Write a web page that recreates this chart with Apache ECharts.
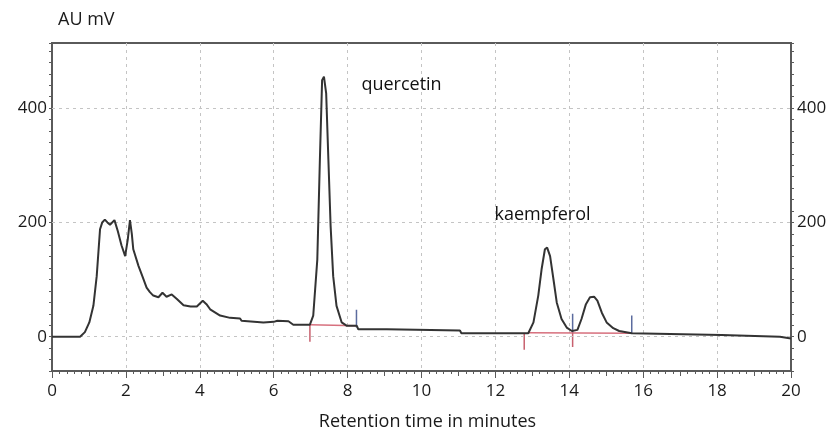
<!DOCTYPE html>
<html>
<head>
<meta charset="utf-8">
<script src="https://cdn.jsdelivr.net/npm/echarts@6/dist/echarts.min.js"></script>
<style>
html,body{margin:0;padding:0;background:#fff;}
#main{width:832px;height:436px;}
</style>
</head>
<body>
<div id="main"></div>
<script>
// retention time (min) and detector signal (mV)
var times = [0, 0.76, 0.89, 1.01, 1.12, 1.21, 1.30, 1.36, 1.43, 1.50, 1.57, 1.69, 1.78, 1.88, 1.98, 2.05, 2.11, 2.16, 2.20, 2.34,
    2.45, 2.56, 2.65, 2.74, 2.88, 2.99, 3.10, 3.24, 3.38, 3.56, 3.75, 3.92, 4.08, 4.18, 4.28, 4.55, 4.82, 5.09, 5.13, 5.72,
    6.00, 6.10, 6.40, 6.53, 6.98, 7.07, 7.18, 7.25, 7.31, 7.36, 7.42, 7.48, 7.54, 7.61, 7.70, 7.84, 7.98, 8.25, 8.29, 9.06,
    9.10, 11.04, 11.08, 12.89, 13.03, 13.16, 13.25, 13.34, 13.40, 13.48, 13.57, 13.66, 13.79, 13.93, 14.07, 14.22, 14.33, 14.45, 14.56, 14.67,
    14.76, 14.88, 15.01, 15.19, 15.35, 15.69, 15.73, 18.12, 18.16, 19.70, 19.74, 20];
var signal = [0, 0, 8, 25, 54, 106, 188, 200, 205, 200, 196, 204, 185, 160, 141, 170, 204, 180, 153, 124,
    105, 86, 78, 72, 69, 77, 70, 74, 66, 55, 53, 53, 63, 57, 48, 37, 33, 32, 28, 25,
    26, 28, 27, 21, 21, 37, 135, 310, 449, 455, 426, 310, 194, 106, 54, 25, 19, 19, 13, 13,
    11, 11, 6, 6, 25, 72, 118, 153, 156, 141, 101, 60, 31, 16, 10, 12, 31, 57, 69, 70,
    63, 42, 25, 15, 10, 6, 3, 3, 0, 0, -3, -3];

// integration baselines [x1, y1, x2, y2]
var baselines = [[6.98, 21, 8.25, 19], [12.89, 7, 15.70, 6]];
// peak start marks (red) and end marks (blue): [x, top, bottom]
var startMarks = [[6.98, 22, -9], [12.78, 6, -23], [14.09, 8, -18]];
var endMarks = [[8.24, 47, 16], [14.09, 40, 8], [15.69, 37, 5]];

// peak names and where their text starts
var peakNames = ['quercetin', 'kaempferol'];
var peakLabelPos = [[8.36, 440], [11.96, 214]];

var yTicks = [0, 200, 400];

var font = 'Open Sans';
var axisColor = '#5a5a5a';
var gridColor = '#c4c4c4';
var textColor = '#1a1a1a';

var trace = times.map(function (t, i) { return [t, signal[i]]; });

var series = [];
baselines.forEach(function (b) {
    series.push({
        type: 'line', data: [[b[0], b[1]], [b[2], b[3]]], symbol: 'none', silent: true,
        lineStyle: { color: '#d7707e', width: 1.5 }, z: 3
    });
});
startMarks.forEach(function (m) {
    series.push({
        type: 'line', data: [[m[0], m[1]], [m[0], m[2]]], symbol: 'none', silent: true,
        lineStyle: { color: '#c8606e', width: 1.5 }, z: 4
    });
});
endMarks.forEach(function (m) {
    series.push({
        type: 'line', data: [[m[0], m[1]], [m[0], m[2]]], symbol: 'none', silent: true,
        lineStyle: { color: '#5b6b9e', width: 1.5 }, z: 4
    });
});
series.push({
    name: 'signal',
    type: 'line',
    data: trace,
    symbol: 'none',
    lineStyle: { color: '#333', width: 2 },
    z: 5,
    markLine: {
        silent: true,
        symbol: 'none',
        label: { show: false },
        lineStyle: { color: gridColor, type: [3, 4], width: 1 },
        data: yTicks.map(function (v) { return { yAxis: v }; })
    }
});
series.push({
    type: 'scatter',
    data: peakLabelPos.map(function (p, i) { return { value: p, name: peakNames[i] }; }),
    symbolSize: 1,
    silent: true,
    itemStyle: { color: 'rgba(0,0,0,0)', opacity: 1 },
    emphasis: { disabled: true },
    label: {
        show: true, position: 'right', distance: 0, opacity: 1,
        formatter: '{b}', fontFamily: font, fontSize: 18, color: '#111'
    },
    z: 6
});

function yAxisCfg(pos) {
    return {
        type: 'value',
        position: pos,
        min: -60,
        max: 514,
        interval: 20,
        axisLine: { show: true, onZero: false, lineStyle: { color: axisColor, width: 2 } },
        axisTick: { show: true, length: 3, lineStyle: { color: axisColor } },
        axisLabel: {
            margin: pos == 'left' ? 5 : 6,
            fontFamily: font, fontSize: 17, color: textColor,
            formatter: function (v) { return yTicks.indexOf(v) >= 0 ? String(v) : ''; }
        },
        splitLine: { show: false }
    };
}

var option = {
    animation: false,
    title: {
        text: 'AU mV',
        left: 58,
        top: 11,
        padding: 0,
        textStyle: { fontFamily: font, fontSize: 18, fontWeight: 'normal', color: textColor }
    },
    grid: {
        left: 52, right: 41, top: 43, bottom: 62,
        show: true, borderColor: axisColor, borderWidth: 2
    },
    xAxis: [
        {
            type: 'value',
            position: 'bottom',
            min: 0,
            max: 20,
            interval: 2,
            name: 'Retention time in minutes',
            nameLocation: 'middle',
            nameGap: 42,
            nameTextStyle: { fontFamily: font, fontSize: 18, color: textColor, padding: [0, 0, 0, 12] },
            axisLine: { show: true, onZero: false, lineStyle: { color: axisColor, width: 2 } },
            axisTick: { show: true, length: 7, lineStyle: { color: axisColor } },
            minorTick: { show: true, splitNumber: 10, length: 3, lineStyle: { color: axisColor } },
            axisLabel: { margin: 12, fontFamily: font, fontSize: 17, color: textColor },
            splitLine: { show: true, lineStyle: { color: gridColor, type: [3, 4], width: 1 } }
        },
        {
            type: 'value',
            position: 'bottom',
            min: 0,
            max: 20,
            interval: 1,
            axisLine: { show: false, onZero: false },
            axisTick: { show: true, length: 5, lineStyle: { color: axisColor } },
            axisLabel: { show: false },
            splitLine: { show: false }
        }
    ],
    yAxis: [yAxisCfg('left'), yAxisCfg('right')],
    series: series
};

var chart = echarts.init(document.getElementById('main'));
chart.setOption(option);
</script>
</body>
</html>
